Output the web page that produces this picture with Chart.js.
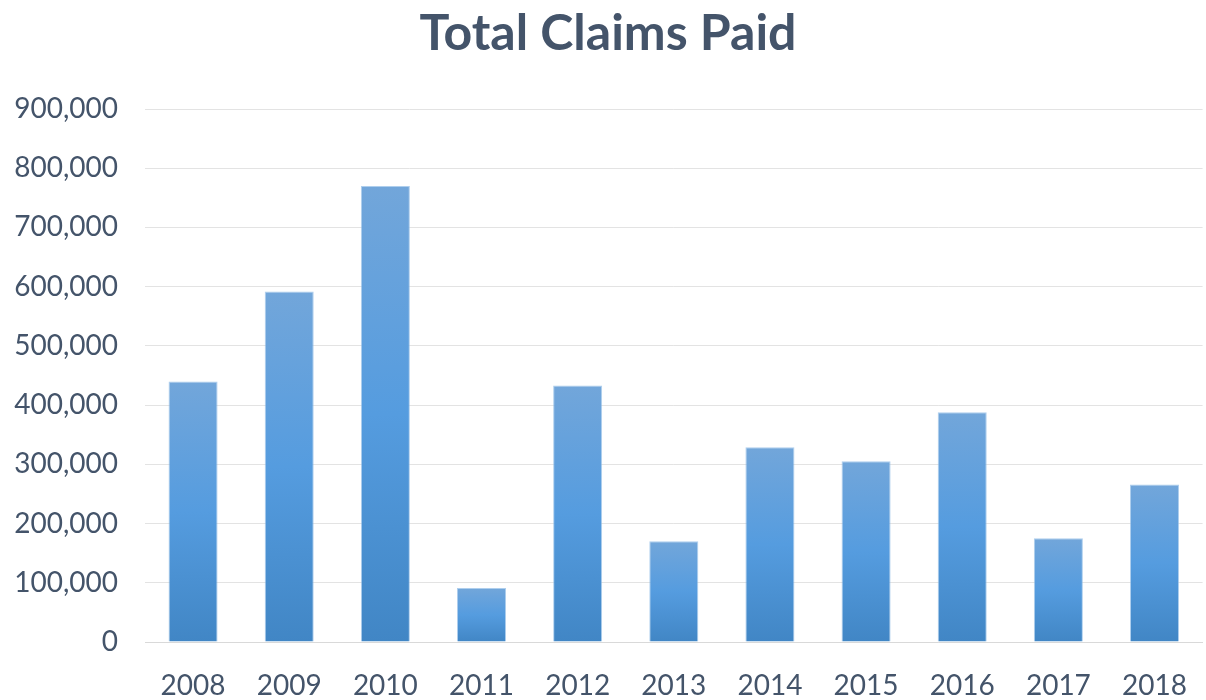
<!DOCTYPE html>
<html>
<head>
<meta charset="utf-8">
<script src="https://cdn.jsdelivr.net/npm/chart.js@4/dist/chart.umd.min.js"></script>
<style>
    html, body { margin: 0; padding: 0; background: #fff; }
    #wrap { width: 1206px; height: 700px; }
</style>
</head>
<body>
<div id="wrap"><canvas id="chart"></canvas></div>
<script>
const years = ['2008', '2009', '2010', '2011', '2012', '2013', '2014', '2015', '2016', '2017', '2018'];
const claimsPaid = [440000, 592000, 770000, 91000, 433000, 170000, 329000, 305000, 388000, 175000, 266000];
const yTicks = [0, 100000, 200000, 300000, 400000, 500000, 600000, 700000, 800000, 900000];

const textColor = '#44546A';
const fontFamily = 'Lato, "Open Sans", sans-serif';

// Excel style gradient on every bar: lighter at the top, darker at the base
function barGradient(context) {
    const chart = context.chart;
    const yScale = chart.scales.y;
    if (!chart.chartArea || !yScale || context.raw === undefined) {
        return '#5b9bd5';
    }
    const top = yScale.getPixelForValue(context.raw);
    const base = yScale.getPixelForValue(0);
    const g = chart.ctx.createLinearGradient(0, top, 0, base);
    g.addColorStop(0, '#72a6da');
    g.addColorStop(0.5, '#559cdf');
    g.addColorStop(1, '#4186c5');
    return g;
}

const ctx = document.getElementById('chart').getContext('2d');
new Chart(ctx, {
    type: 'bar',
    data: {
        labels: years,
        datasets: [{
            label: 'Total Claims Paid',
            data: claimsPaid,
            backgroundColor: barGradient,
            borderColor: 'rgba(140, 185, 230, 0.7)',
            borderWidth: 1,
            borderSkipped: 'bottom',
            categoryPercentage: 1,
            barPercentage: 0.51,
        }]
    },
    options: {
        responsive: true,
        maintainAspectRatio: false,
        animation: false,
        layout: {
            padding: { left: 10, right: 0, top: 0, bottom: 0 }
        },
        scales: {
            x: {
                grid: { display: false },
                border: { display: true, color: '#d9d9d9', width: 1 },
                afterFit: (scale) => {
                    scale.height = 58;
                },
                ticks: {
                    color: textColor,
                    font: { family: fontFamily, size: 28 },
                    padding: 19,
                },
            },
            y: {
                min: 0,
                max: 900000,
                afterBuildTicks: (scale) => {
                    scale.ticks = yTicks.map(v => ({ value: v }));
                },
                afterFit: (scale) => {
                    scale.width = 135;
                },
                grid: {
                    color: '#e3e3e3',
                    lineWidth: 1,
                    drawTicks: false,
                },
                border: { display: false },
                ticks: {
                    color: textColor,
                    font: { family: fontFamily, size: 28 },
                    padding: 27,
                    callback: (v) => v.toLocaleString('en-US'),
                },
            }
        },
        plugins: {
            legend: { display: false },
            tooltip: { enabled: false },
            title: {
                display: true,
                text: 'Total Claims Paid',
                color: textColor,
                font: { family: fontFamily, size: 50, weight: 'bold' },
                padding: { top: 4, bottom: 45 },
            },
        }
    }
});
</script>
</body>
</html>
